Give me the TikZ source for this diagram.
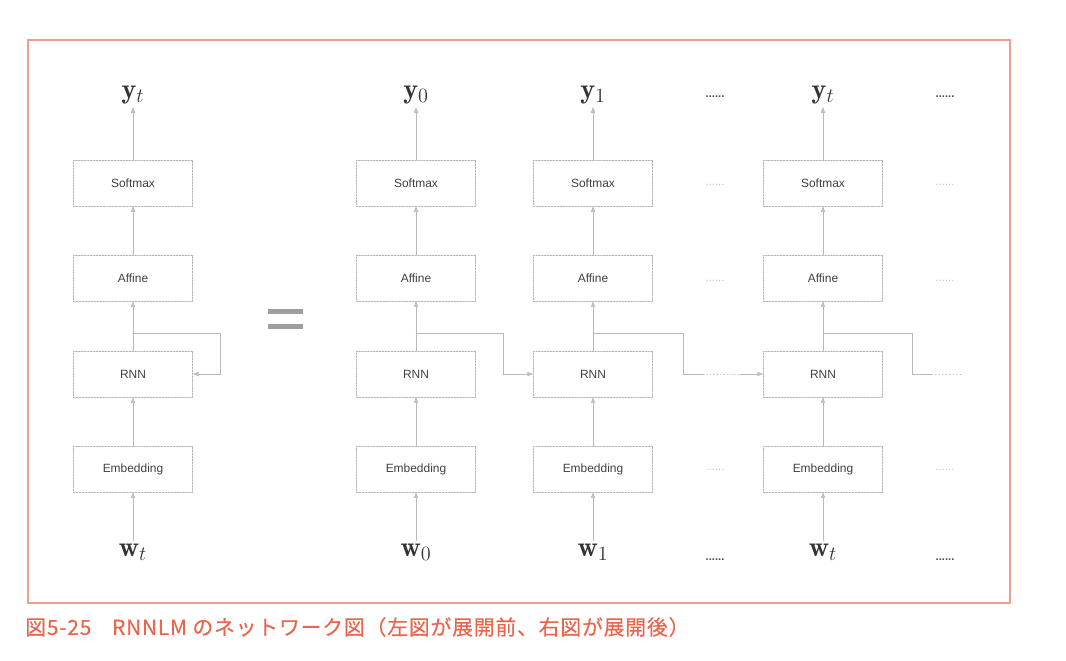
\documentclass[tikz,border=0pt]{standalone}
\usepackage{fontspec}
\setsansfont{Liberation Sans}
\newfontfamily\cjk[FakeBold=0.3,LetterSpace=4]{Noto Sans CJK JP}
\usetikzlibrary{arrows.meta}
\definecolor{framecol}{RGB}{238,160,140}
\definecolor{capcol}{RGB}{234,100,78}

\begin{document}
\begin{tikzpicture}[
  x=0.025cm, y=-0.025cm,
  line cap=round,
  layer/.style={draw=gray!60, dash pattern=on 1.2pt off 0.9pt, line width=0.5pt,
    minimum width=2.98cm, minimum height=1.15cm,
    font=\sffamily\fontsize{8.5}{10}\selectfont, text=black!75},
  link/.style={draw=gray!55, line width=0.5pt},
  arr/.style={link, -{Triangle[length=4pt,width=3pt,fill=gray!45]}},
  vec/.style={font=\fontsize{20}{22}\selectfont, text=black!80, inner sep=2pt},
  more/.style={text=black!70, font=\sffamily\bfseries\fontsize{8}{8}\selectfont},
  faint/.style={text=gray!45, font=\sffamily\fontsize{8}{8}\selectfont}
]
\useasboundingbox (0,0) rectangle (1066,660);

% frame and caption
\draw[framecol, line width=0.8pt] (28,40) rectangle (1010,603);
\node[anchor=west, text=capcol, font=\cjk\fontsize{14.8}{16}\selectfont, inner sep=0pt]
  (cap) at (25,627) {図5-25\quad RNNLM のネットワーク図（左図が展開前、右図が展開後）};

% folded network
\node[layer] (smL)  at (133,183) {Softmax};
\node[layer] (affL) at (133,278) {Affine};
\node[layer] (rnnL) at (133,374) {RNN};
\node[layer] (embL) at (133,469) {Embedding};
\node[vec] (yL) at (133,95) {$\mathbf{y}_t$};
\node[vec] (wL) at (133,552) {$\mathbf{w}_t$};
\coordinate (bL) at (133,333);

\draw[arr] (wL) -- (embL);
\draw[arr] (embL) -- (rnnL);
\draw[arr] (rnnL) -- (affL);
\draw[arr] (affL) -- (smL);
\draw[arr] (smL) -- (yL);
\draw[arr] (bL) -- ++(87,0) |- (rnnL.east);

% equals sign
\fill[gray!75] (268,309) rectangle (303,314);
\fill[gray!75] (268,324) rectangle (303,329);

% unrolled network
\foreach \i/\x/\s in {0/416/0, 1/593/1, 2/823/t} {
  \node[layer] (sm\i)  at (\x,183) {Softmax};
  \node[layer] (aff\i) at (\x,278) {Affine};
  \node[layer] (rnn\i) at (\x,374) {RNN};
  \node[layer] (emb\i) at (\x,469) {Embedding};
  \node[vec] (y\i) at (\x,95) {$\mathbf{y}_\s$};
  \node[vec] (w\i) at (\x,552) {$\mathbf{w}_\s$};
  \coordinate (b\i) at (\x,333);
  \draw[arr] (w\i) -- (emb\i);
  \draw[arr] (emb\i) -- (rnn\i);
  \draw[arr] (rnn\i) -- (aff\i);
  \draw[arr] (aff\i) -- (sm\i);
  \draw[arr] (sm\i) -- (y\i);
}

% hidden state passed on
\draw[arr] (b0) -- ++(87,0) |- (rnn1.west);
\coordinate (g1) at (703,374);
\coordinate (g2) at (740,374);
\draw[link] (b1) -- ++(90,0) |- (g1);
\draw[link, dotted] (g1) -- (g2);
\draw[arr] (g2) -- (rnn2.west);
\coordinate (g3) at (932,374);
\coordinate (g4) at (962,374);
\draw[link] (b2) -- ++(89,0) |- (g3);
\draw[link, dotted] (g3) -- (g4);

% continuation dots
\foreach \x in {715,945} {
  \node[more] (dy\x) at (\x,97) {......};
  \node[more] (dw\x) at (\x,560) {......};
  \node[faint] (ds\x) at (\x,185) {......};
  \node[faint] (da\x) at (\x,281) {......};
  \node[faint] (de\x) at (\x,470) {......};
}
\end{tikzpicture}
\end{document}
